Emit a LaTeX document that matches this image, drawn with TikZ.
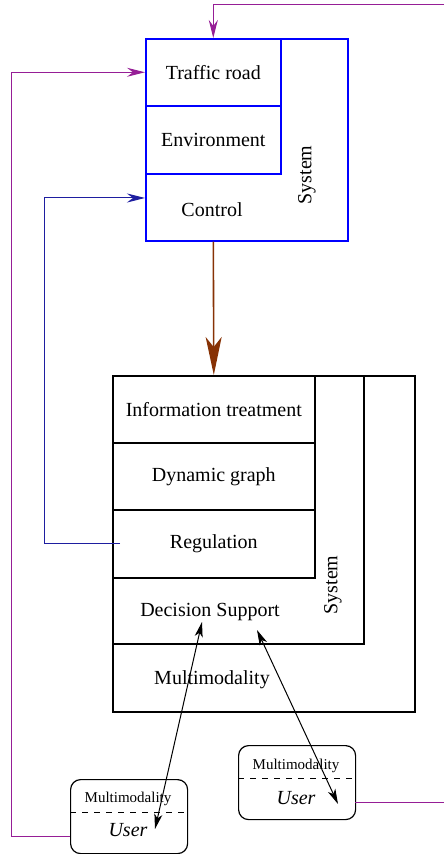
\documentclass[tikz,border=0pt]{standalone}
\usepackage{fontspec}
\setmainfont{Liberation Serif}
\usetikzlibrary{arrows.meta,positioning}
\definecolor{linkpurple}{RGB}{150,30,150}
\definecolor{ctrlblue}{RGB}{30,30,160}
\definecolor{flowbrown}{RGB}{135,50,5}

\begin{document}
\begin{tikzpicture}[x=0.5pt,y=-0.5pt,
    box/.style={draw,line width=0.8pt,anchor=north west,inner sep=0pt},
    bluebox/.style={box,draw=blue},
    userbox/.style={draw,line width=0.6pt,rounded corners=5pt,anchor=north west,minimum width=58.5pt,minimum height=37pt},
    link/.style={linkpurple,line width=0.5pt,-{Stealth[length=9pt,width=4.5pt,inset=3pt]}},
    small/.style={font=\fontsize{7.5}{9}\selectfont}]
    \useasboundingbox (0,0) rectangle (444,854);
        % Upper system
        \node[bluebox,minimum width=101pt,minimum height=101pt] (bluesys) at (145,38) {};
        \node[bluebox,minimum width=67.5pt,minimum height=33.5pt] (traffic) at (145,38) {Traffic road};
        \node[bluebox,minimum width=67.5pt,minimum height=34pt] (environment) at (145,105) {Environment};
        \node (control) at (212,210) {Control};
        \node[rotate=90] (sysup) at (307,175) {System};
        % Lower system
        \node[box,minimum width=151pt,minimum height=168pt] (blacksys) at (112,375) {};
        \node[box,minimum width=125.5pt,minimum height=134pt] (decsys) at (112,375) {};
        \node[box,minimum width=101pt,minimum height=33.5pt] (info) at (112,375) {Information treatment};
        \node[box,minimum width=101pt,minimum height=33.5pt] (graph) at (112,442) {Dynamic graph};
        \node[box,minimum width=101pt,minimum height=34pt] (regulation) at (112,509) {Regulation};
        \node (decision) at (210,612) {Decision Support};
        \node (multi) at (212,680) {Multimodality};
        \node[rotate=90] (syslow) at (333,585) {System};
        % Users
        \node[userbox] (user1) at (70,779) {};
        \draw[dashed,line width=0.5pt] (70,812) -- (187,812);
        \node[small] at (128,799) {Multimodality};
        \node at (128,830) {\itshape User};
        \node[userbox] (user2) at (238,745) {};
        \draw[dashed,line width=0.5pt] (238,778) -- (355,778);
        \node[small] at (296,766) {Multimodality};
        \node at (296,798) {\itshape User};
        % Connector ends
        \coordinate (topin) at (444,5);
        \coordinate (rightout) at (444,802);
        \coordinate (u1out) at (70,836);
        \coordinate (u2out) at (355,802);
        \coordinate (ctrlin) at (145,198);
        \coordinate (regtail) at (120,543);
        \coordinate (ds1) at (202,622);
        \coordinate (ds2) at (257,630);
        \coordinate (u1in) at (155,829);
        \coordinate (u2in) at (338,804);
        % Connectors
        \draw[link] (topin) -| (traffic.north);
        \draw[link] (u1out) -- ++(-59,0) |- (traffic.west);
        \draw[linkpurple,line width=0.5pt] (u2out) -- (rightout);
        \draw[ctrlblue,line width=0.5pt,-{Stealth[length=9pt,width=4.5pt,inset=3pt]}] (regtail) -- ++(-76,0) |- (ctrlin);
        \draw[flowbrown,line width=0.8pt,-{Stealth[length=19pt,width=8pt,inset=5pt]}] (bluesys.south -| traffic.south) -- (blacksys.north -| info.north);
        \draw[line width=0.5pt,{Stealth[length=7.5pt,width=4pt,inset=2pt]}-{Stealth[length=7.5pt,width=4pt,inset=2pt]}] (ds1) -- (u1in);
        \draw[line width=0.5pt,{Stealth[length=7.5pt,width=4pt,inset=2pt]}-{Stealth[length=7.5pt,width=4pt,inset=2pt]}] (ds2) -- (u2in);
\end{tikzpicture}
\end{document}
